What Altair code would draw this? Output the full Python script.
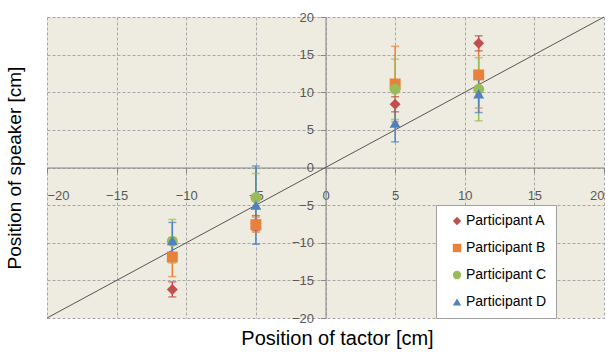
import altair as alt
import pandas as pd

participants = ["Participant A", "Participant B", "Participant C", "Participant D"]
x_positions = [-11, -5, 5, 11]
a_mean = [-16.2, -7.4, 8.4, 16.5]
a_err = [1.0, 1.0, 1.0, 1.0]
b_mean = [-11.9, -7.6, 11.1, 12.3]
b_err = [2.6, 1.0, 5.0, 4.4]
c_mean = [-9.8, -4.0, 10.4, 10.4]
c_err = [2.9, 3.2, 4.0, 4.2]
d_mean = [-9.7, -5.0, 5.9, 9.8]
d_err = [2.4, 5.2, 2.5, 2.5]
colors = ["#C0504D", "#E8823A", "#9BBB59", "#4F81BD"]
shapes = ["diamond", "square", "circle", "triangle-up"]
ticks = [-20, -15, -10, -5, 0, 5, 10, 15, 20]

rows = []
for name, means, errs in zip(participants, [a_mean, b_mean, c_mean, d_mean], [a_err, b_err, c_err, d_err]):
    for xv, m, e in zip(x_positions, means, errs):
        rows.append({"participant": name, "x": xv, "y": m, "lo": m - e, "hi": m + e})
df = pd.DataFrame(rows)
diag = pd.DataFrame({"x": [-20, 20], "y": [-20, 20]})

W, H = 557, 301
xs = alt.Scale(domain=[-20, 20], nice=False, zero=False)
ys = alt.Scale(domain=[-20, 20], nice=False, zero=False)

legend = alt.Legend(title=None, orient="none", legendX=389, legendY=188,
                    fillColor="white", strokeColor="#A0A0A0", padding=9,
                    rowPadding=13, symbolSize=70, symbolStrokeWidth=0, symbolOffset=5,
                    labelFont="Liberation Sans", labelFontSize=14,
                    labelExpr="datum.label + '    '",
                    labelColor="#000000", labelOffset=2, symbolOpacity=1)
color = alt.Color("participant:N", scale=alt.Scale(domain=participants, range=colors), legend=legend)
shape = alt.Shape("participant:N", scale=alt.Scale(domain=participants, range=shapes), legend=legend)

axis_common = dict(values=ticks, grid=True, gridColor="#A6A6A6", gridDash=[3, 2], gridWidth=1,
                   domainColor="#868686", tickColor="#868686", tickSize=5,
                   labelFont="Liberation Sans", labelFontSize=13, labelColor="#595959",
                   labelOverlap=False, title=None)
xaxis = alt.Axis(offset=-150.5, labelPadding=17, **axis_common)
yaxis = alt.Axis(offset=-278.5, labelPadding=7, **axis_common)


def X(f):
    return alt.X(f, scale=xs, axis=xaxis)


def Y(f):
    return alt.Y(f, scale=ys, axis=yaxis)


base = alt.Chart(df)

diag_line = alt.Chart(diag).mark_line(color="#555555", strokeWidth=1).encode(
    x=X("x:Q"), y=Y("y:Q"),
)
rules = base.mark_rule(strokeWidth=1.5).encode(
    x=X("x:Q"), y=Y("lo:Q"), y2="hi:Q", color=color,
)
caps_lo = base.mark_tick(orient="horizontal", size=8, thickness=1.5).encode(
    x=X("x:Q"), y=Y("lo:Q"), color=color,
)
caps_hi = base.mark_tick(orient="horizontal", size=8, thickness=1.5).encode(
    x=X("x:Q"), y=Y("hi:Q"), color=color,
)
points = base.mark_point(filled=True, size=120, opacity=1).encode(
    x=X("x:Q"), y=Y("y:Q"), color=color, shape=shape,
)

xtitle = alt.Chart(pd.DataFrame({"t": ["Position of tactor [cm]"]})).mark_text(
    font="Liberation Sans", fontSize=20, color="#000000", baseline="alphabetic", align="center"
).encode(text="t:N", x=alt.value(290.5), y=alt.value(328))
ytitle = alt.Chart(pd.DataFrame({"t": ["Position of speaker [cm]"]})).mark_text(
    font="Liberation Sans", fontSize=19, color="#000000", baseline="middle", align="center", angle=270
).encode(text="t:N", x=alt.value(-32), y=alt.value(151))

chart = alt.layer(diag_line, rules, caps_lo, caps_hi, points, xtitle, ytitle).properties(
    width=W, height=H,
    background="white",
    autosize=alt.AutoSizeParams(type="none"),
    padding={"left": 47, "top": 17, "right": 7, "bottom": 34},
).configure_view(fill="#EEECE1", stroke=None)

chart.save("out.html", embed_options={"renderer": "svg", "actions": False})
